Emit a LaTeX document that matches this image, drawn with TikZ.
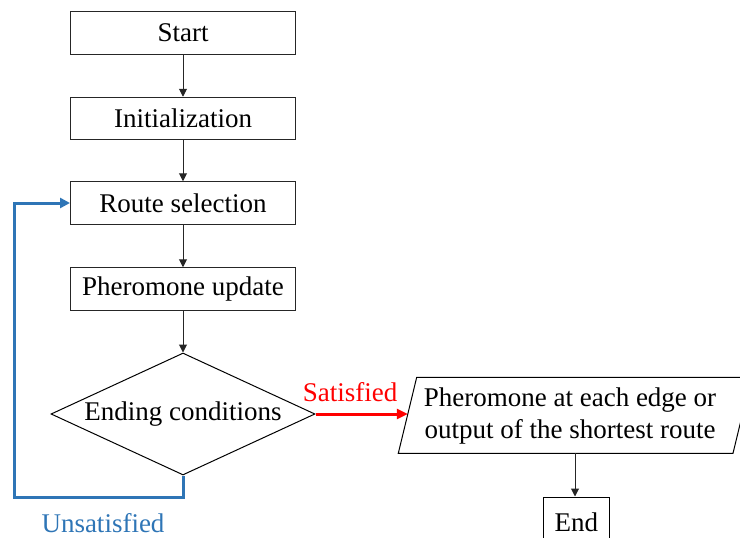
\documentclass[tikz,border=0pt]{standalone}
\usepackage{fontspec}
\setmainfont{Liberation Serif}
\usetikzlibrary{shapes.geometric,arrows.meta}
\definecolor{loopblue}{HTML}{2E75B6}
\begin{document}
\begin{tikzpicture}[x=1pt,y=-1pt,
  every node/.style={font=\fontsize{27}{32}\selectfont},
  procbox/.style={draw=black!85,line width=1pt,rectangle,minimum width=225pt,minimum height=42.5pt,inner sep=0pt},
  flow/.style={draw=black!85,line width=1pt,-{Triangle[length=8pt,width=8pt]}},
  decision/.style={draw=black,line width=1pt,diamond,aspect=2.17,minimum width=264pt,minimum height=122pt,inner sep=0pt}]
\useasboundingbox (0,0) rectangle (740,538);
\clip (0,0) rectangle (740,538);
\node[procbox] (start) at (183,33) {Start};
\node[procbox] (init) at (183,118.5) {Initialization};
\node[procbox] (route) at (183,203) {Route selection};
\node[procbox] (update) at (183,289) {Pheromone update};
\node[decision] (cond) at (183,414) {Ending conditions};
\draw[black,line width=1pt] (398.3,453.3) -- (416.7,377.3) -- (751.4,377.3) -- (733,453.3) -- cycle;
\node[align=center,inner sep=0pt] (out) at (570,416) {Pheromone at each edge or\\output of the shortest route};
\coordinate (outin) at (407.8,414);
\coordinate (outbot) at (575,453.3);
\node[draw=black,line width=1pt,rectangle,minimum width=66pt,minimum height=50pt,inner sep=0pt] (end) at (576.3,522) {End};
\draw[flow] (start) -- (init);
\draw[flow] (init) -- (route);
\draw[flow] (route) -- (update);
\draw[flow] (update) -- (cond);
\draw[flow] (outbot) -- (end.north -| outbot);
\draw[red,line width=3pt,-{Triangle[length=11pt,width=10pt]}] (cond.east) -- (outin);
\coordinate (lb) at (14.3,497.3);
\draw[loopblue,line width=3pt,-{Triangle[length=10pt,width=10pt]}] (cond.south) -- (cond.south |- lb) -- (lb) |- (route.west);
\node[red,anchor=base] (sat) at (350,401) {Satisfied};
\node[loopblue,anchor=base] (unsat) at (103,532.7) {Unsatisfied};
\end{tikzpicture}
\end{document}
